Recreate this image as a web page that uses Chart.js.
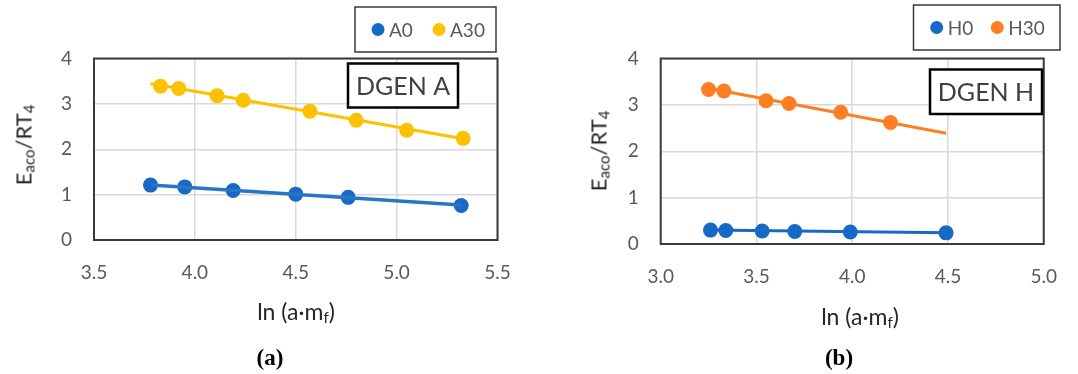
<!DOCTYPE html>
<html>
<head>
<meta charset="utf-8">
<script src="https://cdn.jsdelivr.net/npm/chart.js@4.4.1/dist/chart.umd.min.js"></script>
<style>
  html, body { margin: 0; padding: 0; background: #fff; }
  #wrap { position: relative; width: 1078px; height: 374px; overflow: hidden; background: #fff; }
  .cv { position: absolute; top: 0; }
  .ytitle, .xtitle, .cap { position: absolute; white-space: nowrap; font-family: Lato, "Open Sans", sans-serif; color: #262626; }
  .ytitle { font-size: 22px; transform: translate(-50%, -50%) rotate(-90deg); }
  .xtitle { font-size: 23px; transform: translate(-50%, -50%); }
  .ytitle sub, .xtitle sub { font-size: 15px; vertical-align: -3px; line-height: 0; }
  .cap { font-family: "Liberation Serif", "DejaVu Serif", serif; font-weight: bold; font-size: 23px; color: #000; transform: translate(-50%, -50%); }
</style>
</head>
<body>
<div id="wrap">
  <div class="cv" style="left:0;width:540px;height:374px;"><canvas id="cA" width="540" height="374"></canvas></div>
  <div class="cv" style="left:540px;width:538px;height:374px;"><canvas id="cH" width="538" height="374"></canvas></div>
  <div class="ytitle" style="left:23px;top:145px;">E<sub>aco</sub>/RT<sub>4</sub></div>
  <div class="ytitle" style="left:598px;top:151px;">E<sub>aco</sub>/RT<sub>4</sub></div>
  <div class="xtitle" style="left:296px;top:311px;">ln (a·m<sub>f</sub>)</div>
  <div class="xtitle" style="left:860px;top:316px;">ln (a·m<sub>f</sub>)</div>
  <div class="cap" style="left:270px;top:358px;">(a)</div>
  <div class="cap" style="left:839px;top:358px;">(b)</div>
</div>
<script>
// ---- data ----
const a0X = [3.78, 3.95, 4.19, 4.50, 4.76, 5.32];
const a0Y = [1.21, 1.17, 1.09, 1.01, 0.94, 0.76];
const a30X = [3.83, 3.92, 4.11, 4.24, 4.57, 4.80, 5.05, 5.33];
const a30Y = [3.39, 3.34, 3.18, 3.08, 2.84, 2.64, 2.42, 2.24];
const a0TrendX = [3.78, 5.32];
const a0TrendY = [1.21, 0.77];
const a30TrendX = [3.78, 5.33];
const a30TrendY = [3.45, 2.23];

const h0X = [3.26, 3.34, 3.53, 3.70, 3.99, 4.49];
const h0Y = [0.30, 0.29, 0.28, 0.27, 0.26, 0.24];
const h30X = [3.25, 3.33, 3.55, 3.67, 3.94, 4.20];
const h30Y = [3.33, 3.30, 3.09, 3.03, 2.84, 2.62];
const h0TrendX = [3.26, 4.49];
const h0TrendY = [0.30, 0.24];
const h30TrendX = [3.25, 4.49];
const h30TrendY = [3.36, 2.39];

const xTicksA = [3.5, 4.0, 4.5, 5.0, 5.5];
const xTicksH = [3.0, 3.5, 4.0, 4.5, 5.0];
const yTicks = [0, 1, 2, 3, 4];
const seriesNamesA = ['A0', 'A30'];
const seriesNamesH = ['H0', 'H30'];
const boxLabelA = 'DGEN A';
const boxLabelH = 'DGEN H';

const BLUE = '#1769c6';
const YELLOW = '#ffc000';
const ORANGE = '#fd7e23';

const zip = (xs, ys) => xs.map((x, i) => ({ x: x, y: ys[i] }));
const FONT = 'Lato, "Open Sans", sans-serif';

function framePlugin(cfg) {
  return {
    id: 'frame_' + cfg.id,
    afterDraw(chart) {
      const ctx = chart.ctx;
      const a = chart.chartArea;
      ctx.save();
      ctx.strokeStyle = '#3a3a3a';
      ctx.lineWidth = 2;
      ctx.strokeRect(a.left, a.top, a.right - a.left, a.bottom - a.top);
      const L = cfg.legend;
      ctx.strokeStyle = '#3a3a3a';
      ctx.lineWidth = 1.5;
      ctx.strokeRect(L.x, L.y, L.w, L.h);
      ctx.font = '19px ' + FONT;
      ctx.textBaseline = 'middle';
      ctx.textAlign = 'left';
      L.items.forEach(it => {
        ctx.fillStyle = it.color;
        ctx.beginPath();
        ctx.arc(it.cx, L.y + L.h / 2, 6.5, 0, Math.PI * 2);
        ctx.fill();
        ctx.fillStyle = '#595959';
        ctx.fillText(it.text, it.cx + 11, L.y + L.h / 2 + 1);
      });
      const B = cfg.box;
      ctx.fillStyle = '#fff';
      ctx.fillRect(B.x, B.y, B.w, B.h);
      ctx.strokeStyle = '#000';
      ctx.lineWidth = 2.5;
      ctx.strokeRect(B.x, B.y, B.w, B.h);
      ctx.fillStyle = '#404040';
      ctx.font = '25px ' + FONT;
      ctx.textAlign = 'center';
      ctx.fillText(B.text, B.x + B.w / 2, B.y + B.h / 2 + 1);
      ctx.restore();
    }
  };
}

function makeChart(id, opts) {
  const ptsDs = (label, data, color) => ({
    label: label, data: data, showLine: false,
    backgroundColor: color, borderColor: color,
    pointRadius: 7.5, pointHoverRadius: 7.5, pointBorderWidth: 0, order: 2
  });
  const lineDs = (data, color, width, dash) => ({
    label: '', data: data, showLine: true, borderColor: color, borderWidth: width,
    borderDash: dash || [], pointRadius: 0, pointHoverRadius: 0, fill: false, order: 1
  });
  new Chart(document.getElementById(id), {
    type: 'scatter',
    data: { datasets: opts.datasets(ptsDs, lineDs) },
    options: {
      responsive: false,
      animation: false,
      events: [],
      layout: { padding: { left: 0, top: opts.top, right: opts.right, bottom: 0 } },
      plugins: { legend: { display: false }, tooltip: { enabled: false } },
      scales: {
        x: {
          type: 'linear', min: opts.xTicks[0], max: opts.xTicks[opts.xTicks.length - 1],
          afterBuildTicks: s => { s.ticks = opts.xTicks.map(v => ({ value: v })); },
          afterFit: s => { s.height = opts.xH; },
          grid: { color: '#d9d9d9', lineWidth: 1.5, drawTicks: false },
          border: { display: false },
          ticks: { padding: 21, color: '#595959', font: { family: FONT, size: 19 },
                   callback: v => Number(v).toFixed(1), maxRotation: 0 }
        },
        y: {
          type: 'linear', min: 0, max: 4,
          afterBuildTicks: s => { s.ticks = yTicks.map(v => ({ value: v })); },
          afterFit: s => { s.width = opts.yW; },
          grid: { color: '#d9d9d9', lineWidth: 1.5, drawTicks: false },
          border: { display: false },
          ticks: { padding: 22, color: '#595959', font: { family: FONT, size: 19 },
                   callback: v => String(v) }
        }
      }
    },
    plugins: [framePlugin(opts.deco)]
  });
}

makeChart('cA', {
  top: 58.5, right: 42.5, xH: 134, yW: 94, xTicks: xTicksA,
  datasets: (P, L) => [
    P(seriesNamesA[0], zip(a0X, a0Y), BLUE),
    P(seriesNamesA[1], zip(a30X, a30Y), YELLOW),
    L(zip(a0TrendX, a0TrendY), '#2a74c8', 3.5),
    L(zip(a0TrendX, a0TrendY), '#0a4a92', 1.5, [2, 2]),
    L(zip(a30TrendX, a30TrendY), YELLOW, 3)
  ],
  deco: {
    id: 'A',
    legend: { x: 355, y: 7, w: 141, h: 45, items: [
      { cx: 378, color: BLUE, text: seriesNamesA[0] },
      { cx: 439, color: YELLOW, text: seriesNamesA[1] } ] },
    box: { x: 348, y: 63.5, w: 110, h: 44, text: boxLabelA }
  }
});

makeChart('cH', {
  top: 58.5, right: 20, xH: 130, yW: 120.7, xTicks: xTicksH,
  datasets: (P, L) => [
    P(seriesNamesH[0], zip(h0X, h0Y), BLUE),
    P(seriesNamesH[1], zip(h30X, h30Y), ORANGE),
    L(zip(h0TrendX, h0TrendY), BLUE, 3),
    L(zip(h30TrendX, h30TrendY), ORANGE, 3)
  ],
  deco: {
    id: 'H',
    legend: { x: 373.5, y: 5, w: 146.5, h: 45, items: [
      { cx: 396.7, color: BLUE, text: seriesNamesH[0] },
      { cx: 457.3, color: ORANGE, text: seriesNamesH[1] } ] },
    box: { x: 390, y: 69.5, w: 112, h: 44.5, text: boxLabelH }
  }
});
</script>
</body>
</html>
